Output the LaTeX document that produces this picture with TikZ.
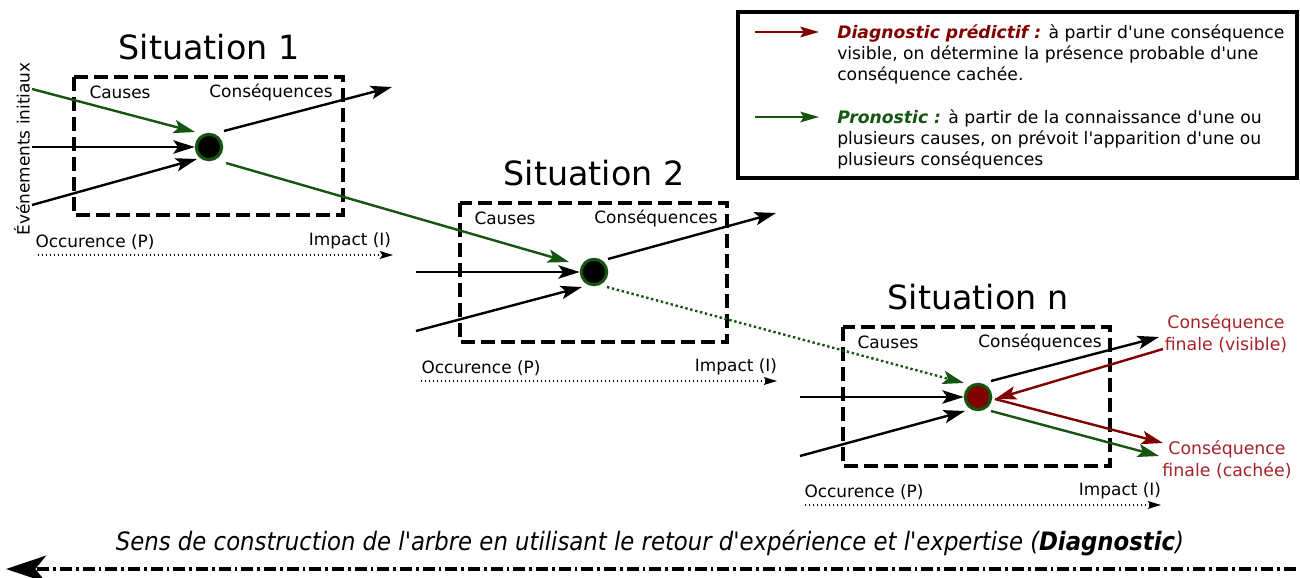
\documentclass[tikz,border=0pt]{standalone}
\usepackage{fontspec}
\setmainfont[Ligatures=TeXOff]{DejaVu Sans}
\newfontfamily\condfont{DejaVu Sans Condensed}
\usetikzlibrary{arrows.meta,calc}

\definecolor{rougeF}{RGB}{128,0,0}
\definecolor{rougeT}{RGB}{165,35,40}
\definecolor{vertF}{RGB}{20,85,15}

\tikzset{
  boite/.style={line width=3pt, dash pattern=on 10.5pt off 4.5pt},
  noeud/.style={circle, draw=vertF, line width=2.4pt, fill=black, minimum size=19pt, inner sep=0pt},
  fleche/.style={line width=1.8pt, -{Stealth[length=16pt,width=10pt,inset=3.5pt]}},
  axe/.style={line width=1pt, dotted, -{Stealth[length=10pt,width=6pt,inset=2pt]}},
  titre/.style={font=\fontsize{25}{29}\selectfont},
  etiq/.style={font=\fontsize{12.7}{15}\selectfont, inner sep=0.75pt},
}

\begin{document}
\begin{tikzpicture}[x=0.75pt,y=0.75pt,yscale=-1,xscale=1]
\useasboundingbox (0,0) rectangle (1300,578);

        % Situation 1
        \node[titre] (t1) at (209,47) {Situation 1};
        \draw[boite] (74,77) rectangle (343,215);
        \node[etiq] (ca1) at (120,92) {Causes};
        \node[etiq] (co1) at (271,92) {Conséquences};
        \node[noeud] (n1) at (209,147) {};
        \coordinate (e1a) at (32,89);
        \coordinate (e1b) at (32,147);
        \coordinate (e1c) at (32,205);
        \coordinate (s1) at (392,87);
        \node[etiq, rotate=90] (ev) at (22,149) {Événements initiaux};
        \draw[fleche, vertF] (e1a) -- ($(n1)+(-14,-15)$);
        \draw[fleche] (e1b) -- (n1.west);
        \draw[fleche] (e1c) -- ($(n1)+(-12,12)$);
        \draw[fleche] ($(n1)+(15,-16)$) -- (s1);
        % Text Node
        \node[etiq] (oc1) at (95,242) {Occurence (P)};
        \node[etiq] (im1) at (350,241) {Impact (I)};
        \coordinate (a1) at (38,255);
        \coordinate (b1) at (393,255);
        \draw[axe] (a1) -- (b1);

        % Situation 2
        \node[titre] (t2) at (594,173) {Situation 2};
        \draw[boite] (460,203) rectangle (727,342);
        \node[etiq] (ca2) at (505,218) {Causes};
        \node[etiq] (co2) at (656,218) {Conséquences};
        \node[noeud] (n2) at (594,272) {};
        \coordinate (e2b) at (416,272);
        \coordinate (e2c) at (416,331);
        \coordinate (s2) at (776,213);
        \draw[fleche, vertF] ($(n1)+(17,16)$) -- ($(n2)+(-25,-10)$);
        \draw[fleche] (e2b) -- (n2.west);
        \draw[fleche] (e2c) -- ($(n2)+(-12,15)$);
        \draw[fleche] ($(n2)+(14,-13)$) -- (s2);
        % Text Node
        \node[etiq] (oc2) at (481,368) {Occurence (P)};
        \node[etiq] (im2) at (736,367) {Impact (I)};
        \coordinate (a2) at (421,381);
        \coordinate (b2) at (777,381);
        \draw[axe] (a2) -- (b2);

        % Situation n
        \node[titre] (t3) at (978,297) {Situation n};
        \draw[boite] (843,327) rectangle (1110,466);
        \node[etiq] (ca3) at (888,342) {Causes};
        \node[etiq] (co3) at (1040,342) {Conséquences};
        \node[noeud, fill=rougeF] (n3) at (978,397) {};
        \coordinate (e3b) at (800,397);
        \coordinate (e3c) at (800,456);
        \coordinate (s3) at (1159,337);
        \coordinate (vis) at (1163,349);
        \coordinate (cac) at (1163,443);
        \coordinate (cacv) at (1159,456);
        \draw[fleche, vertF, dotted] ($(n2)+(13,15)$) -- ($(n3)+(-14,-14)$);
        \draw[fleche] (e3b) -- (n3.west);
        \draw[fleche] (e3c) -- ($(n3)+(-13,14)$);
        \draw[fleche] ($(n3)+(13,-16)$) -- (s3);
        \draw[fleche, rougeF] (vis) -- ($(n3)+(17,2)$);
        \draw[fleche, rougeF] ($(n3)+(17,2)$) -- (cac);
        \draw[fleche, vertF] ($(n3)+(13,14)$) -- (cacv);
        \node[etiq, text=rougeT, align=center, font=\fontsize{13}{16.5}\selectfont] (fv) at (1226,334) {Conséquence\\finale (visible)};
        \node[etiq, text=rougeT, align=center, font=\fontsize{13}{16.5}\selectfont] (fc) at (1227,460) {Conséquence\\finale (cachée)};
        % Text Node
        \node[etiq] (oc3) at (864,492) {Occurence (P)};
        \node[etiq] (im3) at (1120,491) {Impact (I)};
        \coordinate (a3) at (805,505);
        \coordinate (b3) at (1161,505);
        \draw[axe] (a3) -- (b3);

        % Legende
        \draw[line width=3pt] (738,12) rectangle (1297,178);
        \coordinate (l1a) at (755,32);
        \coordinate (l1b) at (819,32);
        \coordinate (l2a) at (755,117);
        \coordinate (l2b) at (819,117);
        \draw[rougeF, line width=1.4pt, -{Stealth[length=14pt,width=8pt,inset=2.5pt]}] (l1a) -- (l1b);
        \draw[vertF, line width=1.4pt, -{Stealth[length=14pt,width=8pt,inset=2.5pt]}] (l2a) -- (l2b);
        \node[etiq, anchor=north west, align=left, font=\fontsize{12.9}{15.75}\selectfont] (leg1) at (836,23)
          {{\color{rougeF}\bfseries\itshape Diagnostic prédictif :} à partir d'une conséquence\\visible, on détermine la présence probable d'une\\conséquence cachée.};
        \node[etiq, anchor=north west, align=left, font=\fontsize{12.9}{15.75}\selectfont] (leg2) at (836,108)
          {{\color{vertF}\bfseries\itshape Pronostic :} à partir de la connaissance d'une ou\\plusieurs causes, on prévoit l'apparition d'une ou\\plusieurs conséquences};

        % Sens de construction
        \node[font=\condfont\itshape\fontsize{19}{22}\selectfont] (sens) at (650,543)
          {Sens de construction de l'arbre en utilisant le retour d'expérience et l'expertise ({\bfseries Diagnostic})};
        \coordinate (d1) at (1296,569);
        \coordinate (d2) at (6,569);
        \draw[line width=3pt, dash pattern=on 9pt off 3pt on 2pt off 3pt, -{Stealth[length=30pt,width=20pt,inset=8pt]}] (d1) -- (d2);

\end{tikzpicture}
\end{document}
